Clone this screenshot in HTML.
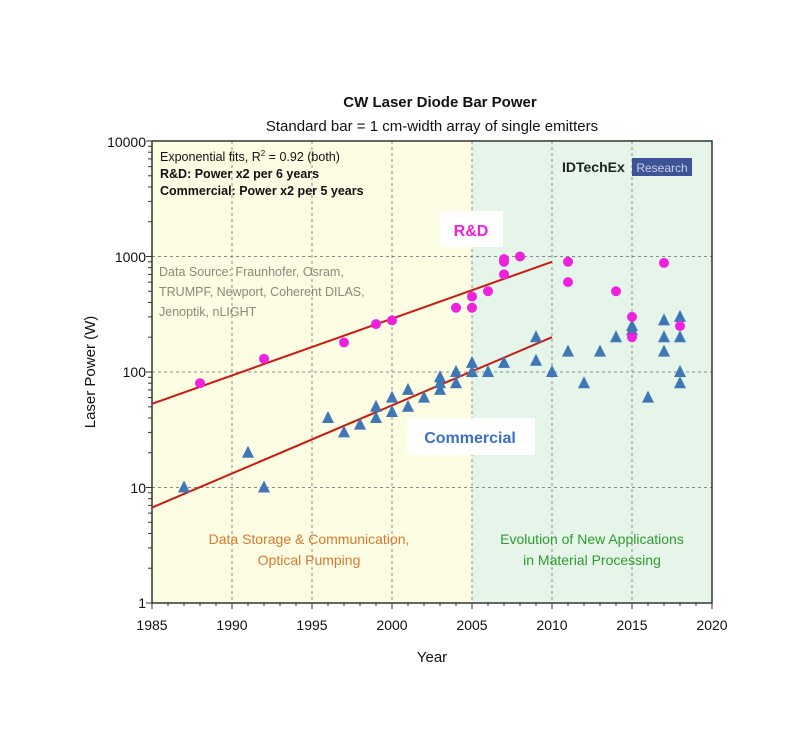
<!DOCTYPE html>
<html><head><meta charset="utf-8"><style>
body{margin:0;background:#fff;}
svg{display:block;font-family:"Liberation Sans",sans-serif;}
</style></head><body>
<svg id="c" width="800" height="749" xmlns="http://www.w3.org/2000/svg">
<rect x="152" y="141" width="320" height="462" fill="#fdfde4"/>
<rect x="472" y="141" width="240" height="462" fill="#e5f5ea"/>
<g id="grid" stroke="#8a8a8a" stroke-dasharray="3,3" stroke-width="1"></g>
<rect x="152" y="141" width="560" height="462" fill="none" stroke="#333" stroke-width="1.5"/>
<g id="ticks" stroke="#333" stroke-width="1"></g>
<text x="440" y="107" text-anchor="middle" font-size="15" font-weight="bold" fill="#111">CW Laser Diode Bar Power</text>
<text x="432" y="131" text-anchor="middle" font-size="15" fill="#111">Standard bar = 1 cm-width array of single emitters</text>
<g font-size="14" fill="#111" text-anchor="end">
<text x="146" y="147">10000</text><text x="146" y="262">1000</text><text x="146" y="377">100</text><text x="146" y="493">10</text><text x="146" y="608">1</text>
</g>
<g font-size="14" fill="#111" text-anchor="middle">
<text x="152" y="630">1985</text><text x="232" y="630">1990</text><text x="312" y="630">1995</text><text x="392" y="630">2000</text><text x="472" y="630">2005</text><text x="552" y="630">2010</text><text x="632" y="630">2015</text><text x="712" y="630">2020</text>
</g>
<text x="432" y="662" text-anchor="middle" font-size="15" fill="#111">Year</text>
<text transform="translate(95,372) rotate(-90)" text-anchor="middle" font-size="15" fill="#111">Laser Power (W)</text>
<g font-size="12.5" fill="#111">
<text x="160" y="161">Exponential fits, R<tspan font-size="8" dy="-5">2</tspan><tspan dy="5"> = 0.92 (both)</tspan></text>
<text x="160" y="178" font-weight="bold">R&amp;D: Power x2 per 6 years</text>
<text x="160" y="195" font-weight="bold">Commercial:  Power x2 per 5 years</text>
</g>
<g font-size="12.5" fill="#8a8a7a">
<text x="159" y="276">Data Source:  Fraunhofer,  Osram,</text>
<text x="159" y="296">TRUMPF, Newport, Coherent DILAS,</text>
<text x="159" y="316">Jenoptik, nLIGHT</text>
</g>
<text x="562" y="172" font-size="14" font-weight="bold" fill="#222">IDTechEx</text>
<rect x="632" y="158" width="60" height="18" fill="#3f5497"/>
<text x="662" y="172" text-anchor="middle" font-size="12" fill="#c8d0e8">Research</text>
<rect x="440" y="211" width="63" height="36" fill="#fff"/>
<text x="471" y="236" text-anchor="middle" font-size="16" font-weight="bold" fill="#ee22dd">R&amp;D</text>
<rect x="407" y="418" width="128" height="37" fill="#fff"/>
<text x="470" y="443" text-anchor="middle" font-size="16" font-weight="bold" fill="#3a6fc7">Commercial</text>
<g font-size="14" fill="#d9782e" text-anchor="middle">
<text x="309" y="544">Data Storage &amp; Communication,</text>
<text x="309" y="565">Optical Pumping</text>
</g>
<g font-size="14" fill="#2f9a2f" text-anchor="middle">
<text x="592" y="544">Evolution of New Applications</text>
<text x="592" y="565">in Material Processing</text>
</g>
<g id="data"></g>
</svg>
<script>
var NS="http://www.w3.org/2000/svg";
function X(y){return 152+16*(y-1985);}
function Y(v){return 603-115.5*Math.log10(v);}
function el(p,t,a){var e=document.createElementNS(NS,t);for(var k in a)e.setAttribute(k,a[k]);document.getElementById(p).appendChild(e);return e;}
[1990,1995,2000,2005,2010,2015].forEach(function(y){el("grid","line",{x1:X(y),x2:X(y),y1:141,y2:603});});
[10,100,1000].forEach(function(v){el("grid","line",{x1:152,x2:712,y1:Y(v),y2:Y(v)});});
for(var d=0;d<4;d++)for(var m=1;m<=10;m++){var v=Math.pow(10,d)*m;var y=Y(v);el("ticks","line",{x1:m==1||m==10?146:148,x2:152,y1:y,y2:y});}
for(var yr=1985;yr<=2020;yr++){el("ticks","line",{x1:X(yr),x2:X(yr),y1:603,y2:yr%5==0?609:606});}
el("data","line",{x1:X(1985),y1:Y(53),x2:X(2010),y2:Y(900),stroke:"#cc1a10","stroke-width":2});
el("data","line",{x1:X(1985),y1:Y(6.7),x2:X(2010),y2:Y(200),stroke:"#cc1a10","stroke-width":2});
var tri=[[1987,10],[1991,20],[1992,10],[1996,40],[1997,30],[1998,35],[1999,40],[1999,50],[2000,45],[2000,60],[2001,50],[2001,70],[2002,60],[2003,70],[2003,80],[2003,90],[2004,80],[2004,100],[2005,100],[2005,120],[2006,100],[2007,120],[2009,200],[2009,125],[2010,100],[2011,150],[2012,80],[2013,150],[2014,200],[2015,250],[2015,230],[2016,60],[2017,280],[2017,200],[2017,150],[2018,300],[2018,200],[2018,100],[2018,80]];
tri.forEach(function(p){var x=X(p[0]),y=Y(p[1]);el("data","polygon",{points:(x-6)+","+(y+5)+" "+(x+6)+","+(y+5)+" "+x+","+(y-7),fill:"#3f76b5"});});
var cir=[[1988,80],[1992,130],[1997,180],[1999,260],[2000,280],[2004,360],[2005,360],[2005,450],[2006,500],[2007,700],[2007,900],[2007,950],[2008,1000],[2011,900],[2011,600],[2014,500],[2015,300],[2015,200],[2017,880],[2018,250]];
cir.forEach(function(p){el("data","circle",{cx:X(p[0]),cy:Y(p[1]),r:5,fill:"#ee22dd"});});
</script>
</body></html>
